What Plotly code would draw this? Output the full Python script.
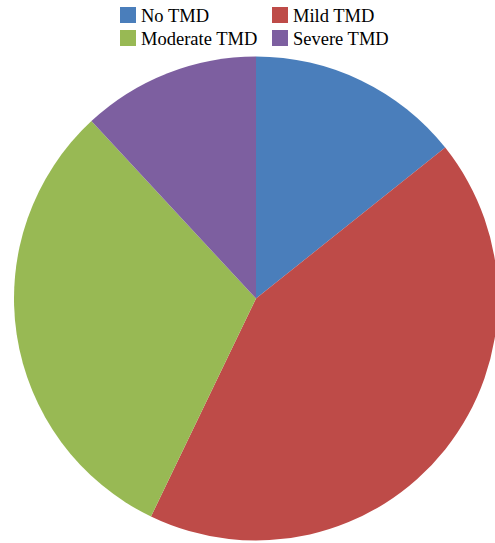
import plotly.graph_objects as go

categories = ["No TMD", "Mild TMD", "Moderate TMD", "Severe TMD"]
values = [12, 36, 26, 10]
colors = ["#4A7EBB", "#BE4B48", "#98B954", "#7D5FA0"]

W, H = 500, 543
cx, cy, r = 256, 298.5, 242
SERIF = "Liberation Serif"

fig = go.Figure(go.Pie(
    labels=categories,
    values=values,
    sort=False,
    direction="clockwise",
    rotation=0,
    textinfo="none",
    hoverinfo="label+percent",
    showlegend=False,
    marker=dict(colors=colors, line=dict(width=0)),
    domain=dict(x=[(cx - r) / W, (cx + r) / W],
                y=[1 - (cy + r) / H, 1 - (cy - r) / H]),
))

# Legend drawn as a 2x2 grid (square swatch + label), like the reference
col_x = [120, 272]      # left edge of swatch, px
row_y = [15, 38]        # vertical centre of row, px
sw = 16                 # swatch size, px
shapes, annots = [], []
for i, (lab, col) in enumerate(zip(categories, colors)):
    x0 = col_x[i % 2]
    yc = row_y[i // 2]
    shapes.append(dict(type="rect", xref="paper", yref="paper",
                       x0=x0 / W, x1=(x0 + sw) / W,
                       y0=1 - (yc + sw / 2) / H, y1=1 - (yc - sw / 2) / H,
                       fillcolor=col, line=dict(width=0)))
    annots.append(dict(text=lab, xref="paper", yref="paper",
                       x=(x0 + sw + 3) / W, y=1 - (yc + 1) / H,
                       xanchor="left", yanchor="middle", showarrow=False,
                       font=dict(family=SERIF, size=18.5, color="black")))

fig.update_layout(
    width=W, height=H, autosize=False,
    margin=dict(l=0, r=0, t=0, b=0),
    paper_bgcolor="white",
    plot_bgcolor="white",
    font=dict(family=SERIF, size=18.5, color="black"),
    shapes=shapes,
    annotations=annots,
)

fig.write_html("out.html", config={"responsive": False}, post_script=
    "document.body.style.overflow='hidden';document.documentElement.style.overflow='hidden';document.body.style.margin='0';")
